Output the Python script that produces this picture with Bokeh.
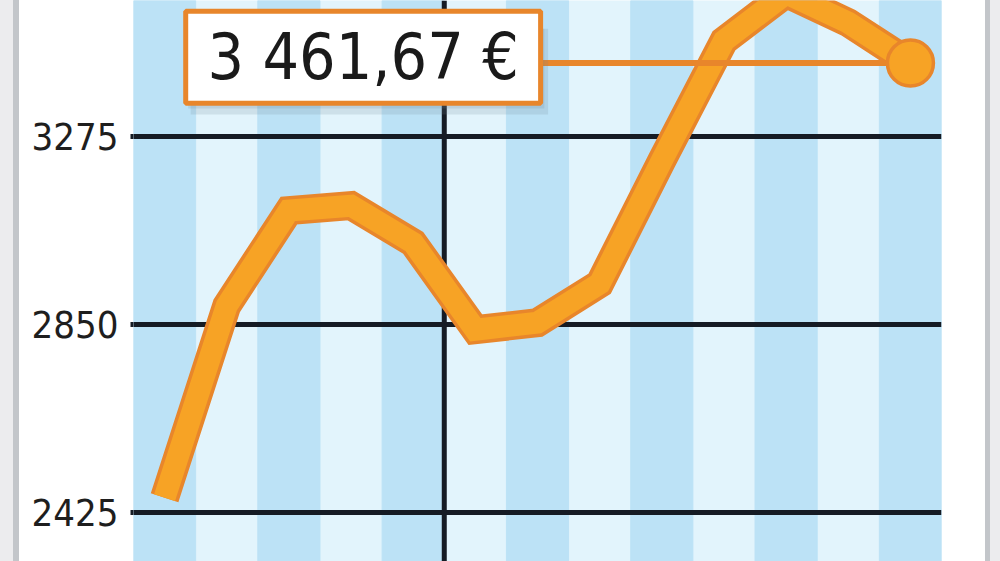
from bokeh.plotting import figure
from bokeh.models import Range1d, FixedTicker, Span, BoxAnnotation, Label, Div
from bokeh.layouts import row
from bokeh.embed import file_html
from bokeh.resources import INLINE

# données
mois = list(range(13))
cours = [2459, 2892, 3107, 3118, 3034, 2838, 2854, 2942, 3220, 3490, 3597, 3531, 3440]
graduations = [2425, 2850, 3275]
etiquette = "3 461,67 €"

POLICE = "DejaVu Sans Condensed"
ORANGE = "#e8862b"
ORANGE_CLAIR = "#f7a325"
NOIR = "#151b24"
Y0, Y1 = 2315, 3581

p = figure(width=966, height=561, output_backend="svg", toolbar_location=None,
           x_range=Range1d(-0.5, 12.5), y_range=Range1d(Y0, Y1),
           x_axis_location=None, min_border_left=114, min_border_right=44,
           min_border_top=0, min_border_bottom=0, margin=0)
p.outline_line_color = None
p.background_fill_color = "#e2f4fc"
p.border_fill_color = "white"

# bandes verticales (un mois sur deux plus foncé)
bandes = mois[::2]
p.vbar(x=bandes, width=1, top=Y1, bottom=Y0, color="#bce2f6", level="image")

p.xgrid.visible = False
p.ygrid.ticker = FixedTicker(ticks=graduations)
p.ygrid.grid_line_color = NOIR
p.ygrid.grid_line_width = 5

ax = p.yaxis[0]
ax.ticker = FixedTicker(ticks=graduations)
ax.axis_line_color = None
ax.major_tick_in = 0
ax.major_tick_out = 3
ax.major_tick_line_width = 5
ax.major_tick_line_color = NOIR
ax.minor_tick_line_color = None
ax.major_label_standoff = 12
ax.major_label_text_font = POLICE
ax.major_label_text_font_size = "38px"
ax.major_label_text_color = "#1e1e1e"

p.add_layout(Span(location=4.5, dimension="height", line_color=NOIR,
                  line_width=5, level="underlay"))

# courbe
p.line(mois, cours, line_width=29, line_color=ORANGE, line_join="miter")
p.line(mois, cours, line_width=22, line_color=ORANGE_CLAIR, line_join="miter")

# cartouche de la dernière valeur
g, d, h, b = 0.34, 6.05, 3557, 3349
p.segment(x0=[d], y0=[cours[-1]], x1=[mois[-1]], y1=[cours[-1]],
          line_color=ORANGE, line_width=6)
p.scatter([mois[-1]], [cours[-1]], size=46, fill_color=ORANGE_CLAIR,
          line_color=ORANGE, line_width=3.5)

p.add_layout(BoxAnnotation(left=g + 0.08, right=d + 0.12, top=h - 40, bottom=b - 25,
                           fill_color="#6d8794", fill_alpha=0.18, line_color=None))
p.add_layout(BoxAnnotation(left=g + 0.04, right=d + 0.06, top=h - 40, bottom=b - 12,
                           fill_color="#6d8794", fill_alpha=0.18, line_color=None))
p.add_layout(BoxAnnotation(left=g, right=d, top=h, bottom=b, fill_color="white",
                           fill_alpha=1, line_color=ORANGE, line_width=5, line_alpha=1))
p.add_layout(Label(x=(g + d) / 2, y=(h + b) / 2, text=etiquette, text_align="center",
                   text_baseline="middle", text_font=POLICE,
                   text_font_size="64px", text_color="#1a1a1a"))

# liserés gris de la page
def bord(w, c):
    return Div(width=w, height=561, margin=0, styles={"background-color": c})

page = row(bord(13, "#ececee"), bord(6, "#c3c6ca"), p, bord(5, "#c3c6ca"), bord(10, "#ececee"))

open("out.html", "w").write(file_html(page, INLINE))
